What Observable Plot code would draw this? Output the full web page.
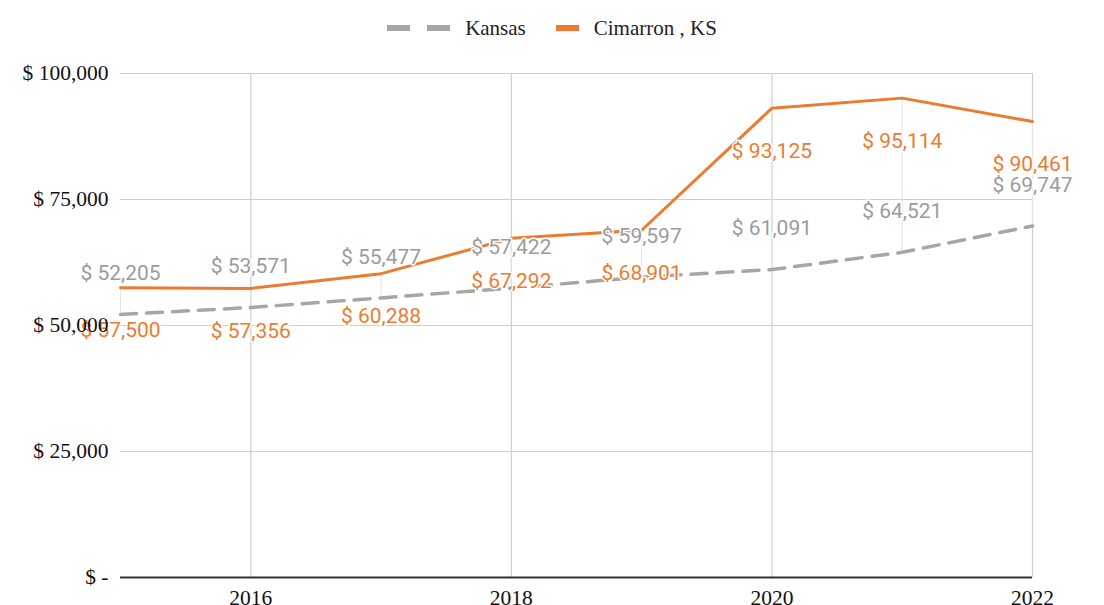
<!DOCTYPE html>
<html>
<head>
<meta charset="utf-8">
<script src="https://cdn.jsdelivr.net/npm/d3@7"></script>
<script src="https://cdn.jsdelivr.net/npm/@observablehq/plot@0.6"></script>
<style>
  html, body { margin: 0; padding: 0; background: #fff; }
  #legend { height: 50px; display: flex; justify-content: center; align-items: center; font-family: "Liberation Serif", "Times New Roman", serif; font-size: 21px; color: #222; padding-top: 6px; box-sizing: border-box; }
  .sw { display: inline-block; height: 6px; width: 23px; }
  .item { display: flex; align-items: center; }
</style>
</head>
<body>
<div id="legend">
  <span class="item"><span class="sw" style="background:#a6a6a6"></span><span class="sw" style="background:#a6a6a6;margin-left:17px"></span><span style="margin-left:15px">Kansas</span></span>
  <span class="item" style="margin-left:30px"><span class="sw" style="background:#ec7b30"></span><span style="margin-left:15px">Cimarron , KS</span></span>
</div>
<div id="chart"></div>
<script>
const years = [2015, 2016, 2017, 2018, 2019, 2020, 2021, 2022];
const kansas = [52205, 53571, 55477, 57422, 59597, 61091, 64521, 69747];
const cimarron = [57500, 57356, 60288, 67292, 68901, 93125, 95114, 90461];
const yTicks = [0, 25000, 50000, 75000, 100000];
const xTicks = [2016, 2018, 2020, 2022];

const fmt = v => v === 0 ? "$ -" : "$ " + d3.format(",")(v);
const ks = years.map((y, i) => ({year: y, value: kansas[i]}));
const cm = years.map((y, i) => ({year: y, value: cimarron[i]}));
const pairs = years.map((y, i) => ({year: y, a: kansas[i], b: cimarron[i]}));

const ORANGE = "#ec7b30", GRAY = "#a6a6a6";

const chart = Plot.plot({
  width: 1104,
  height: 555,
  marginTop: 23,
  marginBottom: 28,
  marginLeft: 120,
  marginRight: 72,
  style: {fontFamily: "'Liberation Serif', 'Times New Roman', serif", fontSize: "21.5px", color: "#111", background: "#fff"},
  x: {domain: [2015, 2022]},
  y: {domain: [0, 100000]},
  marks: [
    Plot.ruleY(yTicks.filter(d => d > 0), {stroke: "#cfcfcf", strokeWidth: 1.2}),
    Plot.ruleX(xTicks, {y1: 0, y2: 100000, stroke: "#cfcfcf", strokeWidth: 1.2}),
    Plot.ruleX(pairs, {x: "year", y1: "a", y2: "b", stroke: "#e3e3e3", strokeWidth: 1}),
    Plot.line(ks, {x: "year", y: "value", stroke: GRAY, strokeWidth: 3.5, strokeDasharray: "16,10"}),
    Plot.line(cm, {x: "year", y: "value", stroke: ORANGE, strokeWidth: 3}),
    Plot.ruleY([0], {stroke: "#333", strokeWidth: 2}),
    Plot.text(ks, {x: "year", y: "value", text: d => fmt(d.value), dy: -41, fill: "#9b9b9b", fontFamily: "Roboto", fontSize: 21, stroke: "white", strokeWidth: 3}),
    Plot.text(cm, {x: "year", y: "value", text: d => fmt(d.value), dy: 43, fill: ORANGE, fontFamily: "Roboto", fontSize: 21, stroke: "white", strokeWidth: 3}),
    Plot.axisY({ticks: yTicks, tickFormat: fmt, tickSize: 0, tickPadding: 12, label: null, fontSize: 21.5}),
    Plot.axisX({ticks: xTicks, tickFormat: d => String(d), tickSize: 0, tickPadding: 12, label: null, fontSize: 21.5})
  ]
});
document.getElementById("chart").appendChild(chart);
</script>
</body>
</html>
